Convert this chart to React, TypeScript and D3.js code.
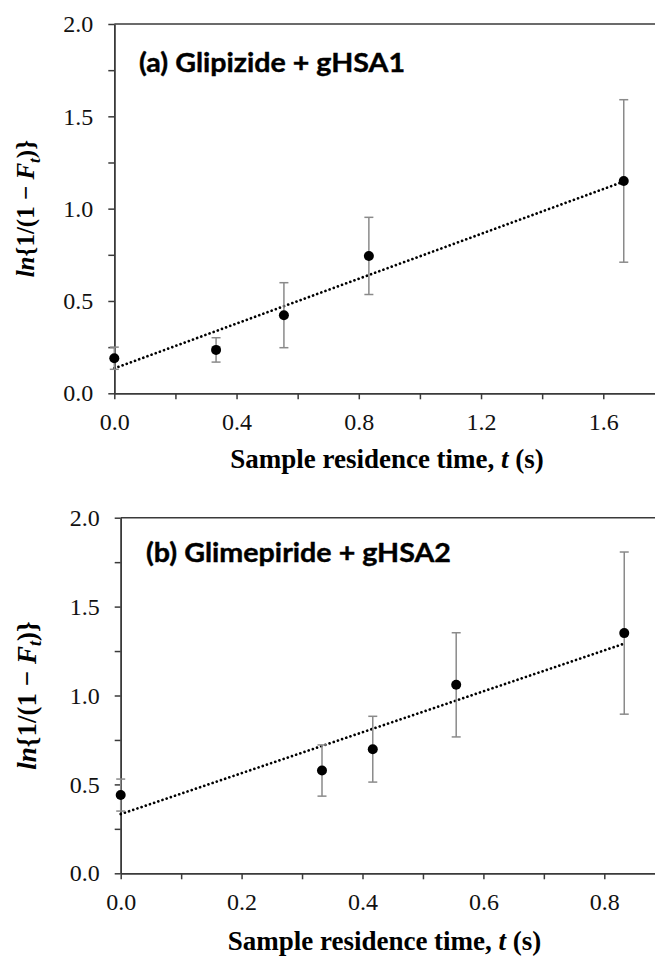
import React, { useEffect, useRef } from "react";
import * as d3 from "d3";

// ---- data ----
const timesA = [0, 0.333, 0.555, 0.833, 1.667];
const valuesA = [0.19, 0.235, 0.423, 0.744, 1.15];
const errorsA = [0.06, 0.066, 0.176, 0.209, 0.44];
const fitA = [0.135, 0.607]; // intercept, slope
const xTicksA = [0, 0.4, 0.8, 1.2, 1.6];
const xMinorA = [0.2, 0.6, 1.0, 1.4];

const timesB = [0, 0.333, 0.417, 0.555, 0.833];
const valuesB = [0.44, 0.578, 0.698, 1.06, 1.351];
const errorsB = [0.09, 0.144, 0.185, 0.293, 0.456];
const fitB = [0.333, 1.151];
const xTicksB = [0, 0.2, 0.4, 0.6, 0.8];
const xMinorB = [0.1, 0.3, 0.5, 0.7];

const yTicks = [0, 0.5, 1.0, 1.5, 2.0];
const yMinor = [0.25, 0.75, 1.25, 1.75];
const titles = ["(a) Glipizide + gHSA1", "(b) Glimepiride + gHSA2"];
const xTitle = "Sample residence time, ";

// ---- layout ----
const panels = [
  {
    times: timesA, values: valuesA, errors: errorsA, fit: fitA,
    xTicks: xTicksA, xMinor: xMinorA, title: titles[0],
    left: 114.3, right: 664.4, top: 24, bottom: 393.3, xMax: 1.8,
    titleX: 139, titleY: 72, titleW: 266,
    yTitleX: 34, yTitleSize: 25, xTitleX: 387, xTitleY: 468,
  },
  {
    times: timesB, values: valuesB, errors: errorsB, fit: fitB,
    xTicks: xTicksB, xMinor: xMinorB, title: titles[1],
    left: 120.7, right: 664.75, top: 517.7, bottom: 873.3, xMax: 0.9,
    titleX: 146, titleY: 561.7, titleW: 305,
    yTitleX: 35.5, yTitleSize: 27, xTitleX: 384.5, xTitleY: 950,
  },
];

const AXIS = "#3a3a3a";
const SERIF = "'Liberation Serif', 'Times New Roman', Times, serif";

export default function App() {
  const ref = useRef<SVGSVGElement | null>(null);

  useEffect(() => {
    const svg = d3.select(ref.current);
    svg.selectAll("*").remove();

    panels.forEach((p) => {
      const x = d3.scaleLinear().domain([0, p.xMax]).range([p.left, p.right]);
      const y = d3.scaleLinear().domain([0, 2]).range([p.bottom, p.top]);
      const g = svg.append("g");

      // top border
      g.append("line")
        .attr("x1", p.left).attr("x2", p.right)
        .attr("y1", p.top).attr("y2", p.top)
        .attr("stroke", AXIS).attr("stroke-width", 1.5);

      // minor ticks
      const xm = g.append("g").attr("transform", `translate(0,${p.bottom})`)
        .call(d3.axisBottom(x).tickValues(p.xMinor).tickSize(6).tickSizeOuter(0).tickFormat(() => ""));
      const ym = g.append("g").attr("transform", `translate(${p.left},0)`)
        .call(d3.axisLeft(y).tickValues(yMinor).tickSize(6).tickSizeOuter(0).tickFormat(() => ""));

      // major axes
      const xa = g.append("g").attr("transform", `translate(0,${p.bottom})`)
        .call(d3.axisBottom(x).tickValues(p.xTicks).tickSize(6).tickSizeOuter(0).tickPadding(14).tickFormat(d3.format(".1f")));
      const ya = g.append("g").attr("transform", `translate(${p.left},0)`)
        .call(d3.axisLeft(y).tickValues(yTicks).tickSize(6).tickSizeOuter(0).tickPadding(15).tickFormat(d3.format(".1f")));

      [xm, ym, xa, ya].forEach((a) => {
        a.selectAll("path, line").attr("stroke", AXIS).attr("stroke-width", 1.5);
        a.selectAll("text").attr("fill", "#111").attr("font-family", SERIF).attr("font-size", 24);
      });

      // trend line (dotted)
      const lastT = p.times[p.times.length - 1];
      const fitLine = d3.line<number>().x((t) => x(t)).y((t) => y(p.fit[0] + p.fit[1] * t));
      g.append("path")
        .attr("d", fitLine([0, lastT]))
        .attr("fill", "none").attr("stroke", "#000")
        .attr("stroke-width", 2.7).attr("stroke-linecap", "round")
        .attr("stroke-dasharray", "0.01 4.4");

      // error bars
      const eb = g.append("g").attr("stroke", "#8a8a8a").attr("stroke-width", 1.5);
      p.times.forEach((t, i) => {
        const cx = x(t);
        const y1 = y(p.values[i] + p.errors[i]);
        const y2 = y(p.values[i] - p.errors[i]);
        eb.append("line").attr("x1", cx).attr("x2", cx).attr("y1", y1).attr("y2", y2);
        eb.append("line").attr("x1", cx - 4.5).attr("x2", cx + 4.5).attr("y1", y1).attr("y2", y1);
        eb.append("line").attr("x1", cx - 4.5).attr("x2", cx + 4.5).attr("y1", y2).attr("y2", y2);
      });

      // points
      g.selectAll("circle.pt").data(p.times).enter().append("circle")
        .attr("cx", (t) => x(t)).attr("cy", (_t, i) => y(p.values[i]))
        .attr("r", 5).attr("fill", "#000");

      // panel title
      g.append("text")
        .attr("x", p.titleX).attr("y", p.titleY)
        .attr("font-family", "Lato, 'Open Sans', sans-serif").attr("font-weight", 700)
        .attr("font-size", 27).attr("fill", "#000")
        .attr("stroke", "#000").attr("stroke-width", 0.4)
        .attr("textLength", p.titleW).attr("lengthAdjust", "spacingAndGlyphs")
        .text(p.title);

      // x title
      const xt = g.append("text")
        .attr("x", p.xTitleX).attr("y", p.xTitleY)
        .attr("text-anchor", "middle")
        .attr("font-family", SERIF).attr("font-weight", 700).attr("font-size", 27).attr("fill", "#000");
      xt.append("tspan").text(xTitle);
      xt.append("tspan").attr("font-style", "italic").text("t");
      xt.append("tspan").text(" (s)");

      // y title
      const cy = (p.top + p.bottom) / 2;
      const yt = g.append("text")
        .attr("transform", `translate(${p.yTitleX},${cy}) rotate(-90)`)
        .attr("text-anchor", "middle")
        .attr("font-family", SERIF).attr("font-weight", 700).attr("font-size", p.yTitleSize).attr("fill", "#000");
      yt.append("tspan").attr("font-style", "italic").text("ln");
      yt.append("tspan").text("{1/(1 \u2212 ");
      yt.append("tspan").attr("font-style", "italic").text("F");
      yt.append("tspan").attr("font-style", "italic").attr("font-size", p.yTitleSize * 0.68).attr("dy", p.yTitleSize * 0.22).text("t");
      yt.append("tspan").attr("dy", -p.yTitleSize * 0.22).text(")}");
    });
  }, []);

  return (
    <svg
      ref={ref}
      width={655}
      height={956}
      style={{ position: "absolute", left: 0, top: 0, background: "#fff" }}
    />
  );
}
